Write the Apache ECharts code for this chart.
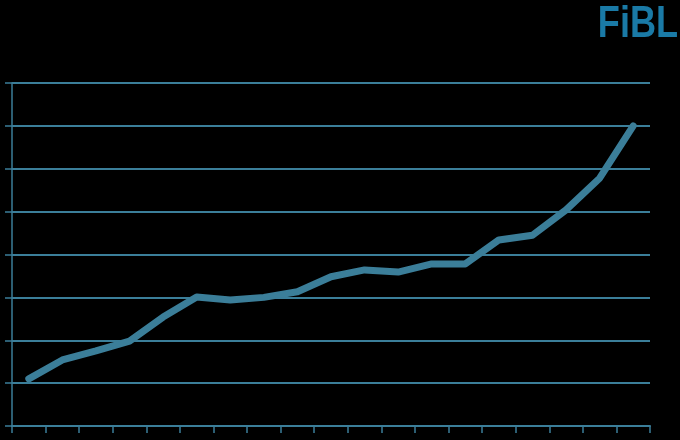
<!DOCTYPE html>
<html>
<head>
<meta charset="utf-8">
<script src="https://cdn.jsdelivr.net/npm/echarts@6/dist/echarts.min.js"></script>
<style>html,body{margin:0;padding:0;background:#000;}#c{width:680px;height:440px;}</style>
</head>
<body>
<div id="c"></div>
<script>
const categories = ['1','2','3','4','5','6','7','8','9','10','11','12','13','14','15','16','17','18','19'];
const values = [1.10, 1.54, 1.75, 1.98, 2.54, 3.01, 2.94, 3.00, 3.13, 3.48, 3.64, 3.59, 3.78, 3.78, 4.34, 4.45, 5.04, 5.78, 7.00];
const yMin = 0, yMax = 8, yStep = 1;
const logoText = 'FiBL';

const teal = '#3b7e99';
const chart = echarts.init(document.getElementById('c'));
chart.setOption({
  backgroundColor: '#000',
  animation: false,
  grid: { left: 12, right: 30, top: 83, bottom: 14 },
  xAxis: {
    type: 'category', data: categories, boundaryGap: true,
    axisLine: { lineStyle: { color: teal, width: 2 } },
    axisTick: { show: true, length: 7, lineStyle: { color: teal, width: 1.5 } },
    axisLabel: { show: false }
  },
  yAxis: {
    type: 'value', min: yMin, max: yMax, interval: yStep,
    axisLine: { show: true, lineStyle: { color: teal, width: 1.5 } },
    axisTick: { show: true, length: 7, lineStyle: { color: teal, width: 1.5 } },
    axisLabel: { show: false },
    splitLine: { lineStyle: { color: teal, width: 2 } }
  },
  series: [{
    type: 'line', data: values, symbol: 'none',
    lineStyle: { color: teal, width: 7, join: 'round', cap: 'round' }
  }],
  graphic: [{
    type: 'text', right: 2, top: 3, scaleX: 0.82,
    style: { text: logoText, fill: '#1a7aa6', font: 'bold 44px "Liberation Sans", Arial, sans-serif' }
  }]
});
</script>
</body>
</html>
